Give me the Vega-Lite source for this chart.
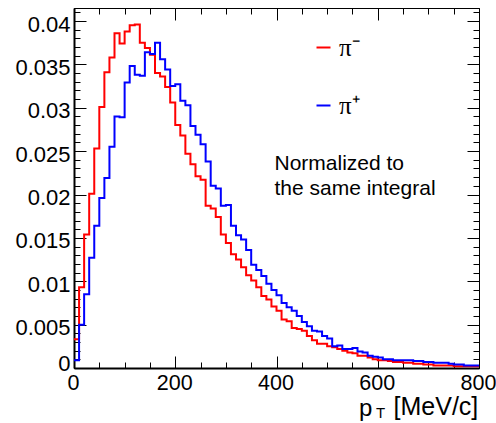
{
  "$schema": "https://vega.github.io/schema/vega-lite/v6.json",
  "width": 405,
  "height": 360,
  "autosize": "none",
  "padding": {"left": 74, "top": 8, "right": 17, "bottom": 55},
  "background": "white",
  "config": {
    "view": {"stroke": "#000", "strokeWidth": 1},
    "axis": {"grid": false, "tickColor": "#000", "domainColor": "#000", "labelColor": "#000", "labelFont": "Liberation Sans", "tickWidth": 1}
  },
  "resolve": {"axis": {"x": "independent", "y": "independent"}},
  "layer": [
    {
      "data": {"values": [
        {"x":0,"pim":0.0033,"pip":0.0009},{"x":10,"pim":0.0093,"pip":0.0050},{"x":20,"pim":0.0154,"pip":0.0085},{"x":30,"pim":0.0201,"pip":0.0127},{"x":40,"pim":0.0253,"pip":0.0164},
        {"x":50,"pim":0.0301,"pip":0.0196},{"x":60,"pim":0.0341,"pip":0.0219},{"x":70,"pim":0.0358,"pip":0.0255},{"x":80,"pim":0.0386,"pip":0.0290},{"x":90,"pim":0.0374,"pip":0.0289},
        {"x":100,"pim":0.0388,"pip":0.0329},{"x":110,"pim":0.0395,"pip":0.0348},{"x":120,"pim":0.0396,"pip":0.0338},{"x":130,"pim":0.0375,"pip":0.0337},{"x":140,"pim":0.0369,"pip":0.0364},
        {"x":150,"pim":0.0361,"pip":0.0362},{"x":160,"pim":0.0340,"pip":0.0375},{"x":170,"pim":0.0336,"pip":0.0356},{"x":180,"pim":0.0324,"pip":0.0344},{"x":190,"pim":0.0306,"pip":0.0325},
        {"x":200,"pim":0.0280,"pip":0.0327},{"x":210,"pim":0.0268,"pip":0.0308},{"x":220,"pim":0.0247,"pip":0.0303},{"x":230,"pim":0.0235,"pip":0.0279},{"x":240,"pim":0.0221,"pip":0.0269},
        {"x":250,"pim":0.0217,"pip":0.0258},{"x":260,"pim":0.0187,"pip":0.0238},{"x":270,"pim":0.0184,"pip":0.0210},{"x":280,"pim":0.0174,"pip":0.0207},{"x":290,"pim":0.0154,"pip":0.0187},
        {"x":300,"pim":0.0144,"pip":0.0188},{"x":310,"pim":0.0131,"pip":0.0164},{"x":320,"pim":0.0125,"pip":0.0153},{"x":330,"pim":0.0116,"pip":0.0148},{"x":340,"pim":0.0107,"pip":0.0136},
        {"x":350,"pim":0.0101,"pip":0.0119},{"x":360,"pim":0.0093,"pip":0.0113},{"x":370,"pim":0.0083,"pip":0.0106},{"x":380,"pim":0.0079,"pip":0.0097},{"x":390,"pim":0.0071,"pip":0.0090},
        {"x":400,"pim":0.0066,"pip":0.0084},{"x":410,"pim":0.0056,"pip":0.0075},{"x":420,"pim":0.0054,"pip":0.0070},{"x":430,"pim":0.0046,"pip":0.0066},{"x":440,"pim":0.0045,"pip":0.0060},
        {"x":450,"pim":0.0043,"pip":0.0053},{"x":460,"pim":0.0037,"pip":0.0048},{"x":470,"pim":0.0032,"pip":0.0043},{"x":480,"pim":0.0028,"pip":0.0042},{"x":490,"pim":0.0028,"pip":0.0037},
        {"x":500,"pim":0.0025,"pip":0.0034},{"x":510,"pim":0.0024,"pip":0.0025},{"x":520,"pim":0.0022,"pip":0.0026},{"x":530,"pim":0.0020,"pip":0.0022},{"x":540,"pim":0.0018,"pip":0.0022},
        {"x":550,"pim":0.0017,"pip":0.0023},{"x":560,"pim":0.0014,"pip":0.0019},{"x":570,"pim":0.0014,"pip":0.0018},{"x":580,"pim":0.0012,"pip":0.0014},{"x":590,"pim":0.0010,"pip":0.0013},
        {"x":600,"pim":0.0009,"pip":0.0012},{"x":610,"pim":0.0009,"pip":0.0010},{"x":620,"pim":0.0008,"pip":0.0010},{"x":630,"pim":0.0007,"pip":0.0009},{"x":640,"pim":0.0007,"pip":0.0009},
        {"x":650,"pim":0.0006,"pip":0.0009},{"x":660,"pim":0.0006,"pip":0.0009},{"x":670,"pim":0.0005,"pip":0.0008},{"x":680,"pim":0.0005,"pip":0.0008},{"x":690,"pim":0.0004,"pip":0.0007},
        {"x":700,"pim":0.0004,"pip":0.0007},{"x":710,"pim":0.0003,"pip":0.0006},{"x":720,"pim":0.0003,"pip":0.0006},{"x":730,"pim":0.0003,"pip":0.0006},{"x":740,"pim":0.0003,"pip":0.0005},
        {"x":750,"pim":0.0002,"pip":0.0004},{"x":760,"pim":0.0002,"pip":0.0004},{"x":770,"pim":0.0002,"pip":0.0003},{"x":780,"pim":0.0002,"pip":0.0003},{"x":790,"pim":0.0002,"pip":0.0003},
        {"x":800,"pim":0.0002,"pip":0.0003}
      ]},
      "transform": [{"fold": ["pim", "pip"], "as": ["s", "v"]}],
      "mark": {"type": "line", "interpolate": "step-after", "strokeWidth": 2},
      "encoding": {
        "x": {"field": "x", "type": "quantitative", "scale": {"domain": [0, 800], "nice": false, "zero": false},
              "axis": {"orient": "bottom", "values": [0, 200, 400, 600, 800], "ticks": false, "domainWidth": 2, "labelFontSize": 21.5, "labelPadding": 4, "labelOffset": -1, "format": "d", "title": null, "labelFlush": false, "labelOverlap": false}},
        "y": {"field": "v", "type": "quantitative", "scale": {"domain": [0, 0.0415], "nice": false},
              "axis": {"orient": "left", "values": [0, 0.005, 0.01, 0.015, 0.02, 0.025, 0.03, 0.035, 0.04], "ticks": false, "domainWidth": 2, "labelFontSize": 22, "labelPadding": 4, "labelOffset": {"condition": {"test": "datum.value == 0", "value": -5}, "value": 3}, "format": "~g", "title": null, "labelOverlap": false}},
        "color": {"field": "s", "type": "nominal", "scale": {"domain": ["pim", "pip"], "range": ["#ff0000", "#0000ff"]},
                  "legend": {"orient": "none", "legendX": 237, "legendY": 27, "title": null, "symbolType": "stroke", "symbolSize": 196, "symbolStrokeWidth": 2, "labelFont": "Liberation Serif", "labelFontSize": 25, "labelColor": "#000", "labelExpr": "datum.value == 'pim' ? 'π⁻' : 'π⁺'", "rowPadding": 32, "labelOffset": 3, "padding": 0}}
      }
    },
    {
      "data": {"values": [{"t": ["Normalized to", "the same integral"]}]},
      "mark": {"type": "text", "align": "left", "baseline": "alphabetic", "font": "Liberation Sans", "fontSize": 21, "lineHeight": 25, "color": "#000"},
      "encoding": {
        "x": {"datum": 396, "type": "quantitative", "scale": {"domain": [0, 800], "nice": false, "zero": false},
              "axis": {"orient": "bottom", "values": [0, 200, 400, 600, 800], "labels": false, "domain": false, "tickSize": -12, "title": null}},
        "y": {"datum": 0.0228, "type": "quantitative", "scale": {"domain": [0, 0.0415], "nice": false},
              "axis": {"orient": "left", "values": [0, 0.005, 0.01, 0.015, 0.02, 0.025, 0.03, 0.035, 0.04], "labels": false, "domain": false, "tickSize": -12, "title": null}},
        "text": {"field": "t"}
      }
    },
    {
      "data": {"values": [{"t": "p"}]},
      "mark": {"type": "text", "align": "left", "baseline": "alphabetic", "font": "Liberation Sans", "fontSize": 24, "color": "#000"},
      "encoding": {
        "x": {"datum": 563, "type": "quantitative", "scale": {"domain": [0, 800], "nice": false, "zero": false},
              "axis": {"orient": "bottom", "values": [0, 50, 100, 150, 200, 250, 300, 350, 400, 450, 500, 550, 600, 650, 700, 750, 800], "labels": false, "domain": false, "tickSize": -6, "title": null}},
        "y": {"datum": -0.0055, "type": "quantitative", "scale": {"domain": [0, 0.0415], "nice": false},
              "axis": {"orient": "left", "values": [0.001, 0.002, 0.003, 0.004, 0.006, 0.007, 0.008, 0.009, 0.011, 0.012, 0.013, 0.014, 0.016, 0.017, 0.018, 0.019, 0.021, 0.022, 0.023, 0.024, 0.026, 0.027, 0.028, 0.029, 0.031, 0.032, 0.033, 0.034, 0.036, 0.037, 0.038, 0.039, 0.041], "labels": false, "domain": false, "tickSize": -6, "title": null}},
        "text": {"field": "t"}
      }
    },
    {
      "data": {"values": [{"t": "T"}]},
      "mark": {"type": "text", "align": "left", "baseline": "alphabetic", "font": "Liberation Sans", "fontSize": 15, "color": "#000"},
      "encoding": {
        "x": {"datum": 596.5, "type": "quantitative", "scale": {"domain": [0, 800], "nice": false, "zero": false},
              "axis": {"orient": "top", "values": [0, 200, 400, 600, 800], "labels": false, "domain": false, "tickSize": -12, "title": null}},
        "y": {"datum": -0.0058, "type": "quantitative", "scale": {"domain": [0, 0.0415], "nice": false},
              "axis": {"orient": "right", "values": [0, 0.005, 0.01, 0.015, 0.02, 0.025, 0.03, 0.035, 0.04], "labels": false, "domain": false, "tickSize": -12, "title": null}},
        "text": {"field": "t"}
      }
    },
    {
      "data": {"values": [{"t": "[MeV/c]"}]},
      "mark": {"type": "text", "align": "right", "baseline": "alphabetic", "font": "Liberation Sans", "fontSize": 25, "color": "#000"},
      "encoding": {
        "x": {"datum": 798.6, "type": "quantitative", "scale": {"domain": [0, 800], "nice": false, "zero": false},
              "axis": {"orient": "top", "values": [0, 50, 100, 150, 200, 250, 300, 350, 400, 450, 500, 550, 600, 650, 700, 750, 800], "labels": false, "domain": false, "tickSize": -6, "title": null}},
        "y": {"datum": -0.0054, "type": "quantitative", "scale": {"domain": [0, 0.0415], "nice": false},
              "axis": {"orient": "right", "values": [0.001, 0.002, 0.003, 0.004, 0.006, 0.007, 0.008, 0.009, 0.011, 0.012, 0.013, 0.014, 0.016, 0.017, 0.018, 0.019, 0.021, 0.022, 0.023, 0.024, 0.026, 0.027, 0.028, 0.029, 0.031, 0.032, 0.033, 0.034, 0.036, 0.037, 0.038, 0.039, 0.041], "labels": false, "domain": false, "tickSize": -6, "title": null}},
        "text": {"field": "t"}
      }
    }
  ]
}
